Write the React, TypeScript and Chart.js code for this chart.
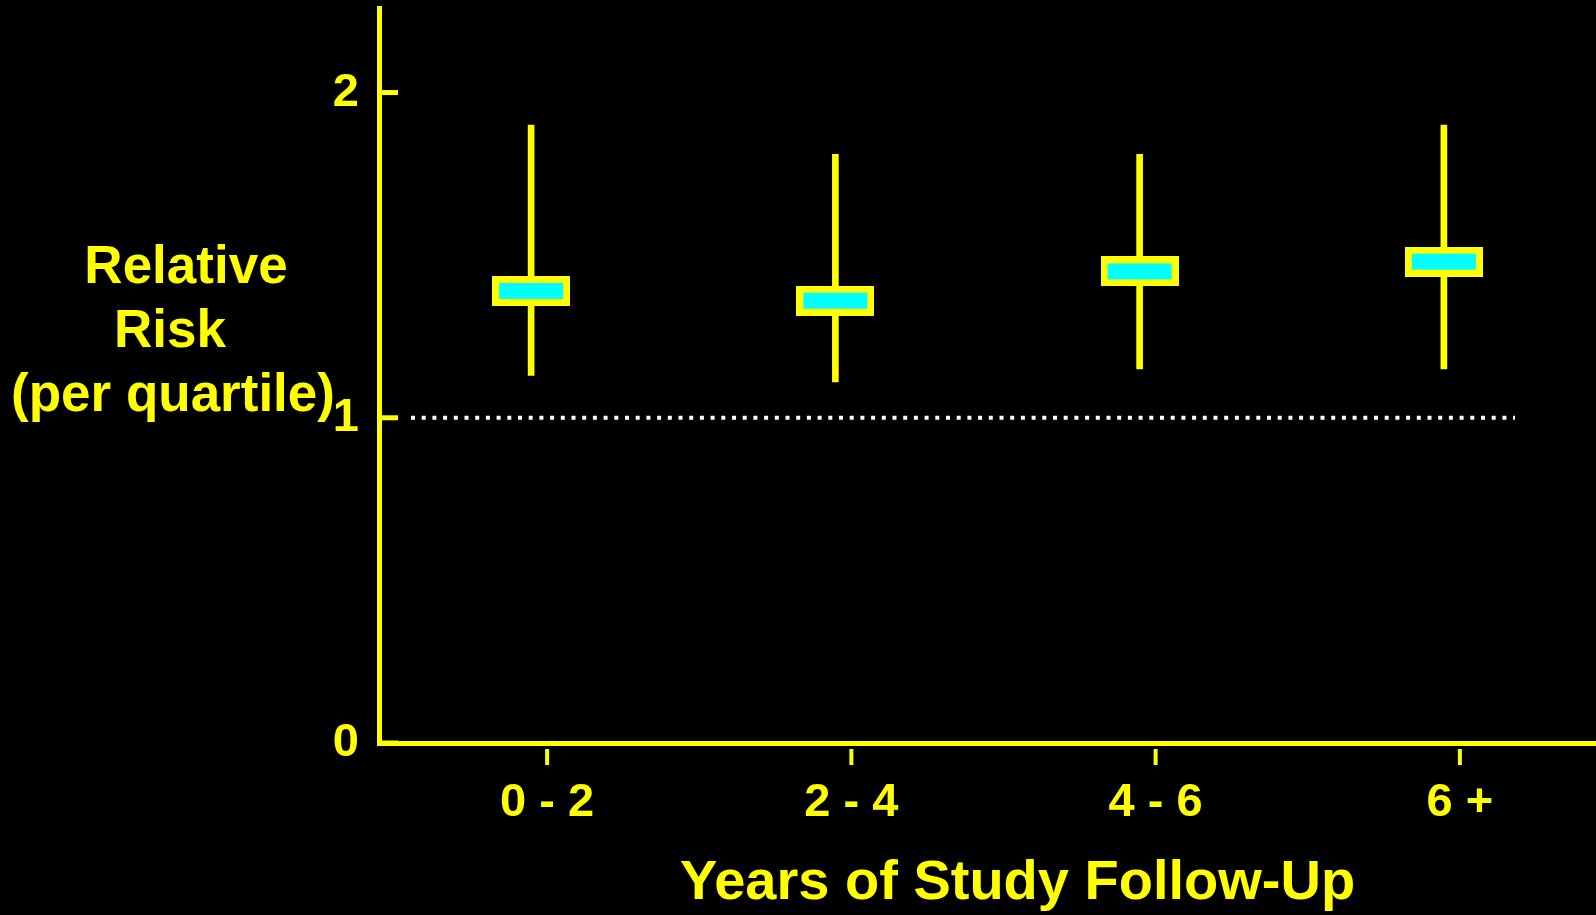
import React, { useEffect, useRef } from 'react';
import { Chart, registerables } from 'chart.js';

Chart.register(...registerables);

// ---- data ----
const CATEGORIES = ['0 - 2', '2 - 4', '4 - 6', '6 +'];
const RELATIVE_RISK = [1.39, 1.36, 1.45, 1.48];
const CI_LOWER = [1.13, 1.11, 1.15, 1.15];
const CI_UPPER = [1.9, 1.81, 1.81, 1.9];
const Y_TICKS = [0, 1, 2];
const Y_MIN = 0;
const Y_MAX = 2.26;
const REFERENCE_VALUE = 1;
const Y_TITLE_LINES = ['Relative', 'Risk', '(per quartile)'];
const X_TITLE = 'Years of Study Follow-Up';

// ---- style ----
const YELLOW = '#ffff00';
const CYAN = '#00ffff';
const FONT = "'Liberation Sans', Arial, Helvetica, sans-serif";
const X_LABEL_OFFSET = 16;

function makeMarker(): HTMLCanvasElement {
  const c = document.createElement('canvas');
  c.width = 78;
  c.height = 30;
  const g = c.getContext('2d')!;
  g.fillStyle = YELLOW;
  g.fillRect(0, 0, 78, 30);
  g.fillStyle = CYAN;
  g.fillRect(7, 7, 64, 16);
  return c;
}

const decorPlugin = {
  id: 'decor',
  beforeDraw(chart: any) {
    const ctx = chart.ctx;
    ctx.save();
    ctx.fillStyle = '#000';
    ctx.fillRect(0, 0, chart.width, chart.height);
    ctx.restore();
  },
  beforeDatasetsDraw(chart: any) {
    const { ctx, chartArea, scales } = chart;
    const y = scales.y.getPixelForValue(REFERENCE_VALUE);
    ctx.save();
    ctx.strokeStyle = '#ffffff';
    ctx.lineWidth = 4;
    ctx.setLineDash([4, 6.7]);
    ctx.beginPath();
    ctx.moveTo(chartArea.left + 32, y);
    ctx.lineTo(chartArea.right - 81, y);
    ctx.stroke();
    ctx.restore();
  },
  afterDraw(chart: any) {
    const { ctx, chartArea, scales } = chart;
    ctx.save();
    ctx.strokeStyle = YELLOW;
    // inner y tick marks
    ctx.lineWidth = 5;
    Y_TICKS.forEach((v) => {
      const y = scales.y.getPixelForValue(v);
      ctx.beginPath();
      ctx.moveTo(chartArea.left, y);
      ctx.lineTo(chartArea.left + 19, y);
      ctx.stroke();
    });
    // x tick marks below axis (aligned with the offset labels)
    ctx.lineWidth = 4;
    CATEGORIES.forEach((_, i) => {
      const x = scales.x.getPixelForValue(i) + X_LABEL_OFFSET;
      ctx.beginPath();
      ctx.moveTo(x, chartArea.bottom + 6);
      ctx.lineTo(x, chartArea.bottom + 22);
      ctx.stroke();
    });
    // titles
    ctx.fillStyle = YELLOW;
    ctx.textAlign = 'center';
    ctx.textBaseline = 'middle';
    ctx.font = `bold 53px ${FONT}`;
    const yTitleX = [186, 170, 173];
    Y_TITLE_LINES.forEach((line, i) => {
      ctx.fillText(line, yTitleX[i], 268 + i * 64);
    });
    ctx.font = `bold 56px ${FONT}`;
    ctx.fillText(X_TITLE, (chartArea.left + chartArea.right) / 2 + 30, 884);
    ctx.restore();
  },
};

export default function App() {
  const ref = useRef<HTMLCanvasElement>(null);

  useEffect(() => {
    const canvas = ref.current!;
    const marker = makeMarker();
    const chart = new Chart(canvas, {
      type: 'bar',
      data: {
        labels: CATEGORIES,
        datasets: [
          {
            type: 'line',
            label: 'Relative risk',
            data: RELATIVE_RISK,
            showLine: false,
            pointStyle: marker as any,
            pointRadius: 15,
            pointHoverRadius: 15,
            order: 0,
          } as any,
          {
            type: 'bar',
            label: '95% CI',
            data: CI_LOWER.map((lo, i) => [lo, CI_UPPER[i]]),
            backgroundColor: YELLOW,
            borderWidth: 0,
            barThickness: 6,
            order: 1,
          } as any,
        ],
      },
      options: {
        animation: false,
        responsive: false,
        events: [],
        layout: {
          autoPadding: false,
          padding: { top: 8, left: 0, right: 0, bottom: 0 },
        },
        plugins: {
          legend: { display: false },
          tooltip: { enabled: false },
          title: { display: false },
        },
        scales: {
          x: {
            type: 'category',
            offset: true,
            grid: { display: false, drawTicks: false },
            border: { display: true, color: YELLOW, width: 5 },
            ticks: {
              color: YELLOW,
              font: { family: FONT, size: 47, weight: 'bold' },
              padding: 32,
              labelOffset: X_LABEL_OFFSET,
              maxRotation: 0,
              autoSkip: false,
            },
            afterFit: (s: any) => {
              s.height = 172;
              s.paddingLeft = 0;
              s.paddingRight = 0;
            },
          },
          y: {
            type: 'linear',
            min: Y_MIN,
            max: Y_MAX,
            grid: { display: false, drawTicks: false },
            border: { display: true, color: YELLOW, width: 5 },
            ticks: {
              color: YELLOW,
              font: { family: FONT, size: 47, weight: 'bold' },
              padding: 20,
            },
            afterBuildTicks: (s: any) => {
              s.ticks = Y_TICKS.map((v) => ({ value: v }));
            },
            afterFit: (s: any) => {
              s.width = 379;
              s.paddingTop = 0;
              s.paddingBottom = 0;
            },
          },
        },
      } as any,
      plugins: [decorPlugin],
    });
    return () => chart.destroy();
  }, []);

  return (
    <div
      style={{
        position: 'fixed',
        left: 0,
        top: 0,
        width: 1596,
        height: 915,
        background: '#000',
      }}
    >
      <canvas
        ref={ref}
        width={1596}
        height={915}
        style={{ display: 'block', width: 1596, height: 915 }}
      />
    </div>
  );
}
